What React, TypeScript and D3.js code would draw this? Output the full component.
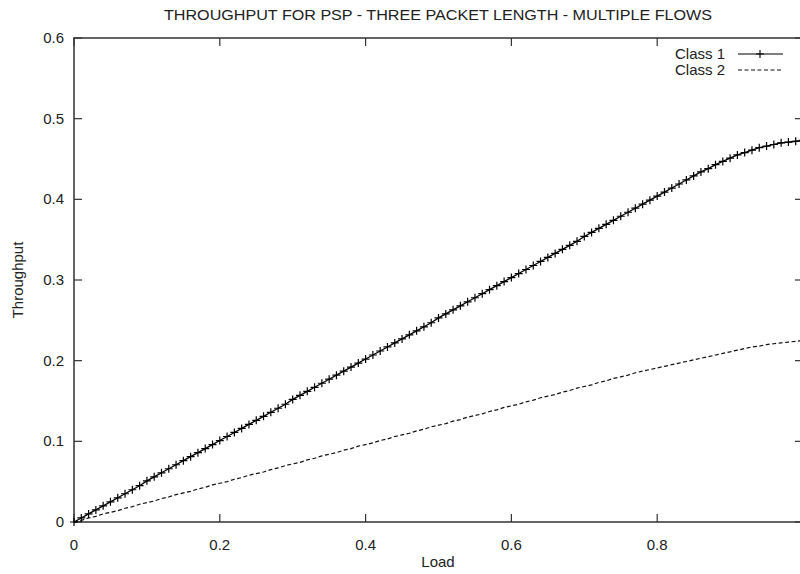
import React from "react";
import * as d3 from "d3";

const TITLE = "THROUGHPUT FOR PSP - THREE PACKET LENGTH - MULTIPLE FLOWS";
const X_LABEL = "Load";
const Y_LABEL = "Throughput";
const SERIES_NAMES = ["Class 1", "Class 2"];
const X_TICKS = [0, 0.2, 0.4, 0.6, 0.8];
const Y_TICKS = [0, 0.1, 0.2, 0.3, 0.4, 0.5, 0.6];

const LOAD = [
  0, 0.01, 0.02, 0.03, 0.04, 0.05, 0.06, 0.07, 0.08, 0.09,
  0.1, 0.11, 0.12, 0.13, 0.14, 0.15, 0.16, 0.17, 0.18, 0.19,
  0.2, 0.21, 0.22, 0.23, 0.24, 0.25, 0.26, 0.27, 0.28, 0.29,
  0.3, 0.31, 0.32, 0.33, 0.34, 0.35, 0.36, 0.37, 0.38, 0.39,
  0.4, 0.41, 0.42, 0.43, 0.44, 0.45, 0.46, 0.47, 0.48, 0.49,
  0.5, 0.51, 0.52, 0.53, 0.54, 0.55, 0.56, 0.57, 0.58, 0.59,
  0.6, 0.61, 0.62, 0.63, 0.64, 0.65, 0.66, 0.67, 0.68, 0.69,
  0.7, 0.71, 0.72, 0.73, 0.74, 0.75, 0.76, 0.77, 0.78, 0.79,
  0.8, 0.81, 0.82, 0.83, 0.84, 0.85, 0.86, 0.87, 0.88, 0.89,
  0.9, 0.91, 0.92, 0.93, 0.94, 0.95, 0.96, 0.97, 0.98, 0.99,
  1.0,
];

const CLASS1 = [
  0, 0.005, 0.01, 0.015, 0.02, 0.025, 0.03, 0.035, 0.04, 0.045,
  0.051, 0.056, 0.061, 0.066, 0.071, 0.076, 0.081, 0.086, 0.091, 0.096,
  0.101, 0.106, 0.111, 0.116, 0.121, 0.126, 0.131, 0.136, 0.141, 0.146,
  0.152, 0.157, 0.162, 0.167, 0.172, 0.177, 0.182, 0.187, 0.192, 0.197,
  0.202, 0.207, 0.212, 0.217, 0.222, 0.227, 0.232, 0.237, 0.242, 0.247,
  0.253, 0.258, 0.263, 0.268, 0.273, 0.278, 0.283, 0.288, 0.293, 0.298,
  0.303, 0.308, 0.313, 0.318, 0.323, 0.328, 0.333, 0.338, 0.343, 0.348,
  0.354, 0.359, 0.364, 0.369, 0.374, 0.379, 0.384, 0.389, 0.394, 0.399,
  0.404, 0.409, 0.414, 0.419, 0.424, 0.429, 0.434, 0.438, 0.443, 0.447,
  0.451, 0.455, 0.458, 0.461, 0.464, 0.466, 0.468, 0.47, 0.471, 0.472,
  0.473,
];

const CLASS2 = [
  0, 0.002, 0.005, 0.007, 0.01, 0.012, 0.014, 0.017, 0.019, 0.022,
  0.024, 0.026, 0.029, 0.031, 0.034, 0.036, 0.038, 0.041, 0.043, 0.046,
  0.048, 0.05, 0.053, 0.055, 0.058, 0.06, 0.062, 0.065, 0.067, 0.07,
  0.072, 0.074, 0.077, 0.079, 0.082, 0.084, 0.086, 0.089, 0.091, 0.094,
  0.096, 0.098, 0.101, 0.103, 0.106, 0.108, 0.11, 0.113, 0.115, 0.118,
  0.12, 0.122, 0.125, 0.127, 0.13, 0.132, 0.134, 0.137, 0.139, 0.142,
  0.144, 0.146, 0.149, 0.151, 0.154, 0.156, 0.158, 0.161, 0.163, 0.166,
  0.168, 0.17, 0.173, 0.175, 0.178, 0.18, 0.182, 0.185, 0.187, 0.189,
  0.191, 0.193, 0.195, 0.197, 0.199, 0.201, 0.203, 0.205, 0.207, 0.209,
  0.211, 0.213, 0.215, 0.217, 0.218, 0.22, 0.221, 0.222, 0.223, 0.224,
  0.225,
];

const W = 800;
const H = 574;
const M = { left: 74, right: 803, top: 38, bottom: 522 };
const FONT = "'Liberation Sans', Arial, Helvetica, sans-serif";
const TXT = "#222";
const AXIS = "#333";

export default function App() {
  const x = d3.scaleLinear().domain([0, 1]).range([M.left, M.right]);
  const y = d3.scaleLinear().domain([0, 0.6]).range([M.bottom, M.top]);

  const line = d3
    .line<number>()
    .x((_, i) => x(LOAD[i]))
    .y((d) => y(d));

  const c1 = line(CLASS1) || "";
  const c2 = line(CLASS2) || "";
  const tl = 8;
  const mk = 4;

  return (
    <svg
      width={W}
      height={H}
      style={{ position: "absolute", left: 0, top: 0, background: "#fff" }}
      fontFamily={FONT}
    >
      <rect x={0} y={0} width={W} height={H} fill="#fff" />
      {/* title */}
      <text
        x={438}
        y={20}
        textAnchor="middle"
        fontSize={15.5}
        fill={TXT}
        textLength={548}
        lengthAdjust="spacingAndGlyphs"
      >
        {TITLE}
      </text>

      {/* ticks */}
      {X_TICKS.map((t) => (
        <g key={"xt" + t}>
          <line x1={x(t)} x2={x(t)} y1={M.bottom} y2={M.bottom - tl} stroke={AXIS} strokeWidth={1.2} />
          <line x1={x(t)} x2={x(t)} y1={M.top} y2={M.top + tl} stroke={AXIS} strokeWidth={1.2} />
          <text x={x(t)} y={M.bottom + 28} textAnchor="middle" fontSize={15} fill={TXT}>
            {t === 0 ? "0" : String(t)}
          </text>
        </g>
      ))}
      {Y_TICKS.map((t) => (
        <g key={"yt" + t}>
          <line x1={M.left} x2={M.left + tl} y1={y(t)} y2={y(t)} stroke={AXIS} strokeWidth={1.2} />
          <line x1={M.right} x2={M.right - tl} y1={y(t)} y2={y(t)} stroke={AXIS} strokeWidth={1.2} />
          <text x={64} y={y(t) + 5} textAnchor="end" fontSize={15} fill={TXT}>
            {t === 0 ? "0" : String(t)}
          </text>
        </g>
      ))}

      {/* border */}
      <rect
        x={M.left}
        y={M.top}
        width={M.right - M.left}
        height={M.bottom - M.top}
        fill="none"
        stroke={AXIS}
        strokeWidth={1.5}
      />

      {/* axis labels */}
      <text x={438} y={567} textAnchor="middle" fontSize={15} fill={TXT}>
        {X_LABEL}
      </text>
      <text
        transform={`translate(23,${280}) rotate(-90)`}
        textAnchor="middle"
        fontSize={15}
        fill={TXT}
      >
        {Y_LABEL}
      </text>

      {/* series */}
      <path d={c2} fill="none" stroke="#111" strokeWidth={1.2} strokeDasharray="4,2.5" />
      <path d={c1} fill="none" stroke="#000" strokeWidth={1.3} />
      {CLASS1.map((v, i) => (
        <path
          key={"m" + i}
          d={`M${x(LOAD[i]) - mk},${y(v)}h${2 * mk}M${x(LOAD[i])},${y(v) - mk}v${2 * mk}`}
          stroke="#000"
          strokeWidth={1.2}
        />
      ))}

      {/* legend */}
      <text x={725} y={59} textAnchor="end" fontSize={15} fill={TXT}>
        {SERIES_NAMES[0]}
      </text>
      <line x1={738} x2={783} y1={54} y2={54} stroke="#000" strokeWidth={1.2} />
      <path d={`M${760 - mk},54h${2 * mk}M760,${54 - mk}v${2 * mk}`} stroke="#000" strokeWidth={1.1} />
      <text x={725} y={75} textAnchor="end" fontSize={15} fill={TXT}>
        {SERIES_NAMES[1]}
      </text>
      <line x1={738} x2={783} y1={70} y2={70} stroke="#111" strokeWidth={1.2} strokeDasharray="4,2.5" />
    </svg>
  );
}
